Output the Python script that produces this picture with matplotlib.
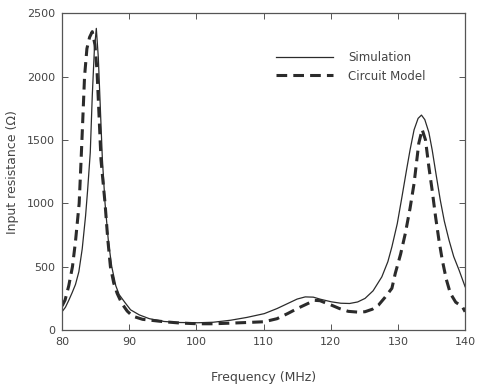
import matplotlib
matplotlib.use("Agg")
import matplotlib.pyplot as plt

###############################################################################
# values
sim_freq = [80.0, 80.5, 81.0, 81.5, 82.0, 82.5, 83.0, 83.5, 83.8, 84.2, 84.5,
            84.8, 85.1, 85.4, 85.7, 86.0, 86.4, 86.9, 87.4, 88.0, 88.5, 89.4,
            90.2, 91.5, 93.0, 95.2, 97.5, 100.2, 102.5, 105.1, 107.5, 110.1,
            112.0, 113.6, 115.0, 116.2, 117.4, 118.5, 120.1, 121.5, 122.8,
            124.0, 125.1, 126.3, 127.6, 128.5, 129.1, 129.9, 130.6, 131.3,
            131.8, 132.4, 133.0, 133.5, 134.0, 134.6, 135.1, 135.7, 136.3,
            136.9, 137.6, 138.3, 139.1, 139.6, 140.0]
sim_res = [145, 180, 235, 295, 360, 460, 640, 900, 1100, 1400, 1850,
           2200, 2380, 2150, 1750, 1350, 1000, 700, 500, 350, 280, 215,
           160, 120, 90, 68, 60, 58, 62, 78, 100, 130,
           170, 210, 245, 262, 260, 243, 223, 212, 210,
           222, 250, 310, 420, 540, 657, 840, 1052, 1270,
           1420, 1580, 1670, 1696, 1660, 1560, 1420, 1220, 1026,
           860, 710, 580, 473, 400, 342]

mod_freq = [80.0, 80.45, 81.0, 81.55, 82.0, 82.55, 82.8, 83.0, 83.35, 83.7,
            84.1, 84.5, 84.9, 85.2, 85.5, 85.8, 86.4, 86.8, 87.2, 87.7, 88.2,
            88.9, 89.7, 90.5, 92.0, 95.2, 97.5, 100.2, 102.5, 105.1, 107.5,
            110.1, 112.0, 113.6, 115.2, 116.6, 117.6, 118.4, 119.2, 120.1,
            121.3, 122.6, 124.0, 125.1, 126.2, 127.1, 128.1, 129.1, 129.6,
            130.4, 131.1, 131.8, 132.4, 133.1, 133.6, 134.1, 134.6, 135.1,
            135.6, 136.1, 136.6, 137.2, 137.8, 138.6, 139.6, 140.0]
mod_res = [190, 237, 350, 500, 700, 1000, 1300, 1550, 2000, 2220,
           2310, 2354, 2250, 2050, 1700, 1341, 1000, 720, 500, 370, 290,
           210, 150, 110, 85, 66, 56, 50, 50, 55, 60,
           66, 90, 131, 175, 210, 235, 232, 215, 197,
           170, 148, 142, 145, 165, 197, 260, 330, 447,
           600, 763, 960, 1157, 1473, 1583, 1500, 1288, 1100,
           894, 710, 552, 400, 290, 220, 184, 145]

x_ticks = [80, 90, 100, 110, 120, 130, 140]
y_ticks = [0, 500, 1000, 1500, 2000, 2500]
###############################################################################

ink = "#2b2b2b"
grey = "#555555"

fig = plt.figure(figsize=(4.81, 3.87), dpi=100)
ax = fig.add_axes([0.129, 0.147, 0.838, 0.819])

ax.plot(sim_freq, sim_res, color=ink, lw=0.9, label="Simulation")
ax.plot(mod_freq, mod_res, color=ink, lw=2.2, ls=(0, (3.5, 2.0)),
        label="Circuit Model")

ax.set_xlim(80, 140)
ax.set_ylim(0, 2500)
ax.set_xticks(x_ticks)
ax.set_yticks(y_ticks)

ax.tick_params(direction="in", top=True, right=True, length=4, width=0.7,
               color=grey, labelcolor="#444444", labelsize=8, pad=5)
for sp in ax.spines.values():
    sp.set_color(grey)
    sp.set_linewidth(0.9)

ax.set_xlabel("Frequency (MHz)", fontsize=9, color="#444444", labelpad=17)
ax.set_ylabel("Input resistance (\u03a9)", fontsize=9, color="#444444",
              labelpad=6)

# legend sits a bit left of the corner, no frame
leg = ax.legend(loc="upper left", bbox_to_anchor=(0.505, 0.915), frameon=False,
                fontsize=8.5, handlelength=4.8, handletextpad=1.3,
                labelspacing=0.5)
for t in leg.get_texts():
    t.set_color("#444444")

fig.savefig("out.png", dpi=100)
